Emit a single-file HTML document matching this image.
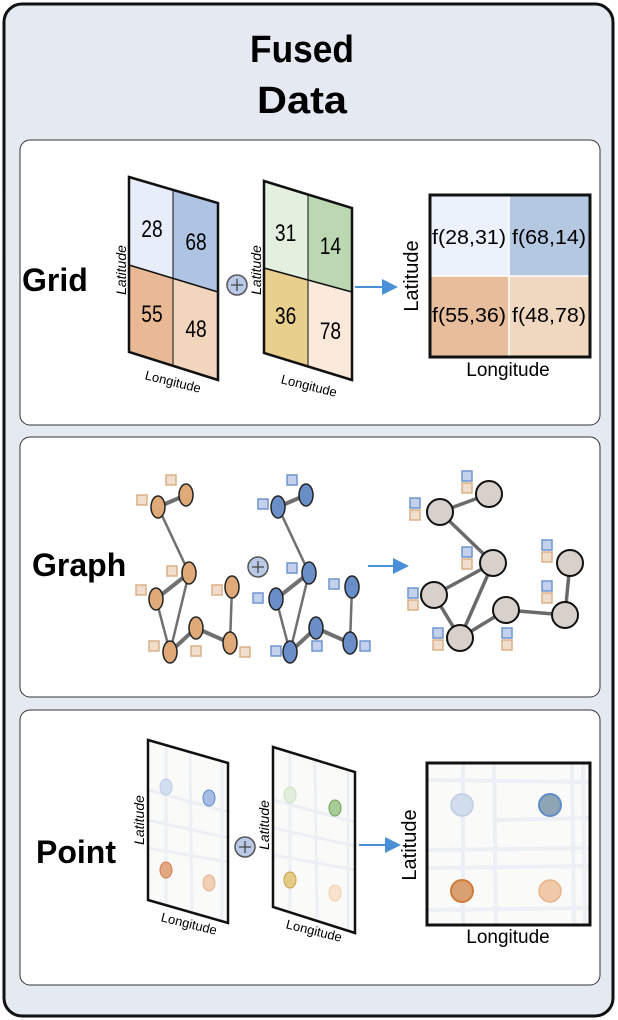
<!DOCTYPE html>
<html><head><meta charset="utf-8"><style>
html,body{margin:0;padding:0;background:#fff;}
svg{display:block;font-family:"Liberation Sans",sans-serif;}
</style></head><body>
<svg width="618" height="1020" viewBox="0 0 618 1020">
<rect x="4" y="4" width="609" height="1012" rx="18" fill="#e4e9f2" stroke="#111" stroke-width="3"/>
<text x="302" y="62" text-anchor="middle" font-size="38" font-weight="bold" textLength="104" lengthAdjust="spacingAndGlyphs">Fused</text>
<text x="302" y="113" text-anchor="middle" font-size="38" font-weight="bold" textLength="90" lengthAdjust="spacingAndGlyphs">Data</text>

<rect x="20" y="140" width="580" height="285" rx="10" fill="#fff" stroke="#333" stroke-width="1"/>
<rect x="20" y="437" width="580" height="260" rx="10" fill="#fff" stroke="#333" stroke-width="1"/>
<rect x="20" y="710" width="580" height="275" rx="10" fill="#fff" stroke="#333" stroke-width="1"/>

<defs><marker id="ah" markerWidth="8" markerHeight="8" refX="7" refY="4" orient="auto"><path d="M0,0 L8,4 L0,8 z" fill="#4a90d9"/></marker></defs>

<text x="22" y="291" font-size="32" font-weight="bold">Grid</text>
<g>
<polygon points="129,177 173,189 173,278 129,265" fill="#e7eef9"/>
<polygon points="173,189 218,203 218,292 173,278" fill="#afc4e3"/>
<polygon points="129,265 173,278 173,366 129,352" fill="#e9b996"/>
<polygon points="173,278 218,292 218,380 173,366" fill="#f1d6bd"/>
<polygon points="129,177 218,203 218,380 129,352" fill="none" stroke="#111" stroke-width="2.5"/>
<line x1="129" y1="265" x2="218" y2="292" stroke="#111" stroke-width="1.5"/>
<line x1="173" y1="189" x2="173" y2="366" stroke="#111" stroke-width="1"/>
<g font-size="24" text-anchor="middle" transform="scale(0.8,1)">
<text x="190" y="237">28</text><text x="245" y="250">68</text><text x="190" y="322">55</text><text x="245" y="337">48</text></g>
<text transform="translate(126,270) rotate(-90)" font-size="14" font-style="italic" text-anchor="middle">Latitude</text>
<text transform="translate(172,386) rotate(14)" font-size="13" text-anchor="middle">Longitude</text>
</g>
<g><circle cx="237" cy="285" r="10" fill="#b9c9e6" stroke="#555" stroke-width="1.5"/><path d="M231,285h12M237,279v12" stroke="#444" stroke-width="1.3"/></g>
<g>
<polygon points="264,181 308,194 308,280 264,268" fill="#e3efdf"/>
<polygon points="308,194 352,208 352,292 308,280" fill="#bcd8b2"/>
<polygon points="264,268 308,280 308,367 264,353" fill="#e8cf8e"/>
<polygon points="308,280 352,292 352,380 308,367" fill="#fbeadb"/>
<polygon points="264,181 352,208 352,380 264,353" fill="none" stroke="#111" stroke-width="2.5"/>
<line x1="264" y1="268" x2="352" y2="292" stroke="#111" stroke-width="1.5"/>
<line x1="308" y1="194" x2="308" y2="367" stroke="#111" stroke-width="1"/>
<g font-size="24" text-anchor="middle" transform="scale(0.8,1)">
<text x="357" y="241">31</text><text x="413" y="254">14</text><text x="357" y="324">36</text><text x="413" y="339">78</text></g>
<text transform="translate(261,270) rotate(-90)" font-size="14" font-style="italic" text-anchor="middle">Latitude</text>
<text transform="translate(308,390) rotate(14)" font-size="13" text-anchor="middle">Longitude</text>
</g>
<line x1="355" y1="287" x2="396" y2="287" stroke="#4a90d9" stroke-width="2" marker-end="url(#ah)"/>
<g>
<rect x="430" y="195" width="79" height="81" fill="#ebf2fb"/>
<rect x="509" y="195" width="81" height="81" fill="#b4c8e2"/>
<rect x="430" y="276" width="79" height="81" fill="#e8bd9c"/>
<rect x="509" y="276" width="81" height="81" fill="#f0d8c0"/>
<line x1="509" y1="195" x2="509" y2="357" stroke="#fff" stroke-width="1.5"/>
<line x1="430" y1="276" x2="590" y2="276" stroke="#fff" stroke-width="1.5"/>
<rect x="430" y="195" width="160" height="162" fill="none" stroke="#111" stroke-width="3"/>
<g font-size="20" text-anchor="middle">
<text x="469" y="244" textLength="74" lengthAdjust="spacingAndGlyphs">f(28,31)</text><text x="549" y="244" textLength="74" lengthAdjust="spacingAndGlyphs">f(68,14)</text>
<text x="469" y="322" textLength="74" lengthAdjust="spacingAndGlyphs">f(55,36)</text><text x="549" y="322" textLength="74" lengthAdjust="spacingAndGlyphs">f(48,78)</text></g>
<text transform="translate(418,276) rotate(-90)" font-size="20" text-anchor="middle">Latitude</text>
<text x="508" y="376" font-size="19" text-anchor="middle">Longitude</text>
</g>

<text x="32" y="576" font-size="32" font-weight="bold">Graph</text>
<g id="graphs"></g>
<g><circle cx="258" cy="567" r="10" fill="#b9c9e6" stroke="#555" stroke-width="1.5"/><path d="M252,567h12M258,561v12" stroke="#444" stroke-width="1.3"/></g>
<line x1="368" y1="566" x2="407" y2="566" stroke="#4a90d9" stroke-width="2" marker-end="url(#ah)"/>

<text x="36" y="863" font-size="32" font-weight="bold">Point</text>
<g>
<polygon points="148,740 228,763 228,923 148,900" fill="#fafaf8"/>
<g stroke="#eceff5" stroke-width="3"><line x1="166" y1="745" x2="166" y2="905"/><line x1="190" y1="752" x2="192" y2="912"/><line x1="222" y1="762" x2="222" y2="920"/><line x1="148" y1="790" x2="228" y2="812"/><line x1="148" y1="848" x2="228" y2="862"/><line x1="148" y1="820" x2="228" y2="838"/></g>
<polygon points="148,740 228,763 228,923 148,900" fill="none" stroke="#111" stroke-width="2.5"/>
<ellipse cx="166" cy="787" rx="6" ry="8" fill="#d3dff0" stroke="#b8cbe6"/>
<ellipse cx="209" cy="798" rx="6" ry="8" fill="#a6bde3" stroke="#5f89cf"/>
<ellipse cx="166" cy="870" rx="6" ry="8" fill="#e3a882" stroke="#d08050"/>
<ellipse cx="209" cy="883" rx="6" ry="8" fill="#f1cfb6" stroke="#e5b08f"/>
<text transform="translate(144,820) rotate(-90)" font-size="14" font-style="italic" text-anchor="middle">Latitude</text>
<text transform="translate(188,928) rotate(14)" font-size="13" text-anchor="middle">Longitude</text>
</g>
<g><circle cx="245" cy="847" r="10" fill="#b9c9e6" stroke="#555" stroke-width="1.5"/><path d="M239,847h12M245,841v12" stroke="#444" stroke-width="1.3"/></g>
<g>
<polygon points="273,747 355,772 355,933 273,907" fill="#fafaf8"/>
<g stroke="#eceff5" stroke-width="3"><line x1="290" y1="752" x2="290" y2="912"/><line x1="315" y1="758" x2="317" y2="920"/><line x1="348" y1="770" x2="348" y2="930"/><line x1="273" y1="800" x2="355" y2="822"/><line x1="273" y1="855" x2="355" y2="870"/><line x1="273" y1="828" x2="355" y2="846"/></g>
<polygon points="273,747 355,772 355,933 273,907" fill="none" stroke="#111" stroke-width="2.5"/>
<ellipse cx="290" cy="795" rx="6" ry="8" fill="#e3eedd" stroke="#cbdfc2"/>
<ellipse cx="335" cy="808" rx="6" ry="8" fill="#a9cc96" stroke="#6ea05a"/>
<ellipse cx="290" cy="880" rx="6" ry="8" fill="#e5cb88" stroke="#c9a040"/>
<ellipse cx="335" cy="893" rx="6" ry="8" fill="#f8e2cc" stroke="#f0d0b0"/>
<text transform="translate(269,825) rotate(-90)" font-size="14" font-style="italic" text-anchor="middle">Latitude</text>
<text transform="translate(313,935) rotate(14)" font-size="13" text-anchor="middle">Longitude</text>
</g>
<line x1="359" y1="845" x2="399" y2="845" stroke="#4a90d9" stroke-width="2" marker-end="url(#ah)"/>
<g>
<rect x="427" y="763" width="163" height="162" fill="#fafaf8"/>
<g stroke="#eceff5" stroke-width="4"><line x1="463" y1="763" x2="463" y2="925"/><line x1="494" y1="763" x2="496" y2="925"/><line x1="572" y1="763" x2="574" y2="925"/><line x1="583" y1="763" x2="585" y2="925"/><line x1="427" y1="780" x2="590" y2="782"/><line x1="427" y1="850" x2="590" y2="848"/><line x1="427" y1="868" x2="590" y2="866"/><line x1="494" y1="820" x2="590" y2="818"/><line x1="427" y1="910" x2="590" y2="908"/></g>
<rect x="427" y="763" width="163" height="162" fill="none" stroke="#111" stroke-width="3"/>
<circle cx="462" cy="805" r="11" fill="#d1dcec" stroke="#bccce4" stroke-width="1.5"/>
<circle cx="550" cy="805" r="11" fill="#8ea5b4" stroke="#5f8cca" stroke-width="2"/>
<circle cx="462" cy="891" r="11" fill="#d9a171" stroke="#d27a3a" stroke-width="2"/>
<circle cx="550" cy="891" r="11" fill="#f0c9a8" stroke="#e9b48a" stroke-width="1.5"/>
<text transform="translate(416,845) rotate(-90)" font-size="20" text-anchor="middle">Latitude</text>
<text x="508" y="943" font-size="19" text-anchor="middle">Longitude</text>
</g>
</svg>
<script>
const nodeX=[158,186,189,156,232,196,170,230];
const nodeY=[507,495,573,599,587,628,652,643];
const edgeFrom=[0,0,2,2,3,6,5,7];
const edgeTo=[1,2,3,6,6,5,7,4];
const edgeThick=[1,0,1,0,0,1,1,0];
const orangeSqX=[171,142,172,141,217,154,196,245];
const orangeSqY=[480,500,571,590,590,646,651,652];
const blueSqX=[292,263,292,258,334,276,317,365];
const blueSqY=[480,504,568,598,584,651,646,646];
const fusedX=[440,489,493,434,506,570,565,460];
const fusedY=[512,494,563,595,610,563,615,638];
const fusedFrom=[0,0,2,2,3,7,4,6];
const fusedTo=[1,2,3,7,7,4,6,5];
const pairX=[415,467,467,413,547,547,438,507];
const pairY=[509,482,558,599,551,592,639,639];
const NS='http://www.w3.org/2000/svg';
const root=document.getElementById('graphs');
function mk(tag,attrs,parent){const e=document.createElementNS(NS,tag);for(const k in attrs)e.setAttribute(k,attrs[k]);parent.appendChild(e);return e;}
function drawGraph(dx,fill,name){
  const g=mk('g',{},root);
  
  
  for(let i=0;i<edgeFrom.length;i++){
    mk('line',{x1:nodeX[edgeFrom[i]]+dx,y1:nodeY[edgeFrom[i]],x2:nodeX[edgeTo[i]]+dx,y2:nodeY[edgeTo[i]],stroke:'#707070','stroke-width':edgeThick[i]?4:2.5},g);
  }
  for(let i=0;i<nodeX.length;i++){
    const n=mk('ellipse',{cx:nodeX[i]+dx,cy:nodeY[i],rx:7,ry:11,fill:fill,stroke:'#222','stroke-width':1.5},g);
    
    
  }
}
drawGraph(0,'#dfaa78','graph-orange');
drawGraph(120,'#6a8fc8','graph-blue');
for(let i=0;i<orangeSqX.length;i++){
  const s=mk('rect',{x:orangeSqX[i]-5,y:orangeSqY[i]-5,width:10,height:10,fill:'#f0ddcc',stroke:'#dcb088','stroke-width':1.5},root);
  
  
}
for(let i=0;i<blueSqX.length;i++){
  const s=mk('rect',{x:blueSqX[i]-5,y:blueSqY[i]-5,width:10,height:10,fill:'#c3d1ec',stroke:'#6f95d0','stroke-width':1.5},root);
  
  
}
const fg=mk('g',{},root);


for(let i=0;i<fusedFrom.length;i++){
  mk('line',{x1:fusedX[fusedFrom[i]],y1:fusedY[fusedFrom[i]],x2:fusedX[fusedTo[i]],y2:fusedY[fusedTo[i]],stroke:'#6a6a6a','stroke-width':3.5},fg);
}
for(let i=0;i<fusedX.length;i++){
  const c=mk('circle',{cx:fusedX[i],cy:fusedY[i],r:13,fill:'#d8d0cb',stroke:'#111','stroke-width':2},fg);
  
  
}
for(let i=0;i<pairX.length;i++){
  const b=mk('rect',{x:pairX[i]-5,y:pairY[i]-11,width:10,height:10,fill:'#c3d1ec',stroke:'#6f95d0','stroke-width':1.5},fg);
  
  
  const o=mk('rect',{x:pairX[i]-5,y:pairY[i]+1,width:10,height:10,fill:'#f0ddcc',stroke:'#dcb088','stroke-width':1.5},fg);
  
  
}
</script>
</body></html>
